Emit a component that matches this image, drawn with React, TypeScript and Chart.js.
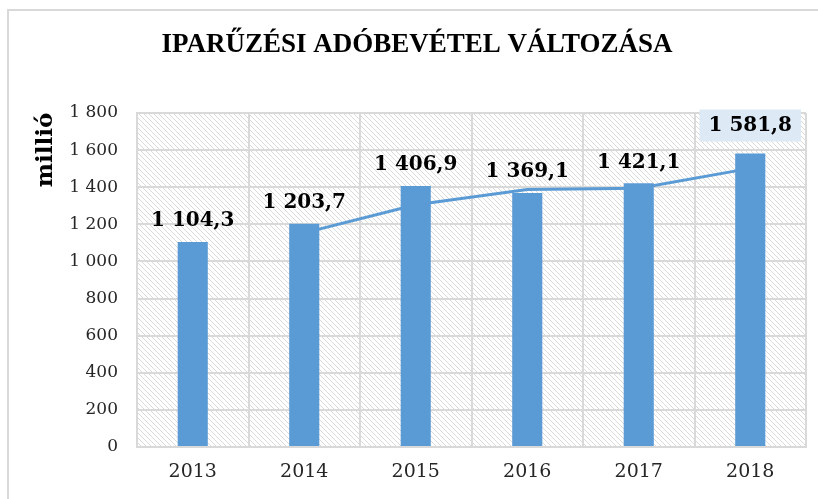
import React, { useEffect, useRef } from "react";
import { Chart, registerables } from "chart.js";

Chart.register(...registerables);

const chartTitle = "IPARŰZÉSI ADÓBEVÉTEL VÁLTOZÁSA";
const yAxisTitle = "millió";
const categories = ["2013", "2014", "2015", "2016", "2017", "2018"];
const revenue = [1104.3, 1203.7, 1406.9, 1369.1, 1421.1, 1581.8];
const trendLine = [null, 1154.0, 1305.3, 1388.0, 1395.1, 1501.5];
const yMin = 0;
const yMax = 1800;
const yStep = 200;
const highlightedCategories = ["2018"];

const BLUE = "#5b9bd5";
const GRID = "#d9d9d9";

function fmtThousands(intPart: string) {
  return intPart.replace(/\B(?=(\d{3})+(?!\d))/g, " ");
}
function fmtTick(v: number) {
  return fmtThousands(String(Math.round(v)));
}
function fmtValue(v: number) {
  const [i, d] = v.toFixed(1).split(".");
  return fmtThousands(i) + "," + d;
}

function makePattern(ctx: CanvasRenderingContext2D) {
  const size = 5;
  const c = document.createElement("canvas");
  c.width = size;
  c.height = size;
  const p = c.getContext("2d")!;
  p.fillStyle = "#ffffff";
  p.fillRect(0, 0, size, size);
  p.strokeStyle = "#dadada";
  p.lineWidth = 1;
  p.beginPath();
  p.moveTo(0, 0);
  p.lineTo(size, size);
  p.moveTo(-1, size - 1);
  p.lineTo(1, size + 1);
  p.moveTo(size - 1, -1);
  p.lineTo(size + 1, 1);
  p.stroke();
  return ctx.createPattern(c, "repeat");
}

const backgroundPlugin = {
  id: "hatchBackground",
  beforeDraw(chart: any) {
    const { ctx, chartArea } = chart;
    ctx.save();
    ctx.fillStyle = "#ffffff";
    ctx.fillRect(0, 0, chart.width, chart.height);
    // outer frame
    ctx.fillStyle = GRID;
    ctx.fillRect(7, 9, chart.width, 2);
    ctx.fillRect(7, 9, 2, chart.height);
    const pat = makePattern(ctx);
    if (pat) {
      ctx.fillStyle = pat;
      ctx.fillRect(
        chartArea.left,
        chartArea.top,
        chartArea.right - chartArea.left,
        chartArea.bottom - chartArea.top
      );
    }
    ctx.restore();
  },
};

const labelPlugin = {
  id: "barValueLabels",
  afterDatasetsDraw(chart: any) {
    const { ctx } = chart;
    const dsIndex = chart.data.datasets.findIndex((d: any) => d.type === "bar");
    const meta = chart.getDatasetMeta(dsIndex);
    ctx.save();
    ctx.font = "bold 20px 'DejaVu Serif'";
    ctx.textAlign = "center";
    ctx.textBaseline = "middle";
    meta.data.forEach((el: any, i: number) => {
      const text = fmtValue(revenue[i]);
      const hl = highlightedCategories.includes(categories[i]);
      const y = el.y - (hl ? 28 : 21);
      if (hl) {
        const w = ctx.measureText(text).width + 18;
        ctx.fillStyle = "#dde9f5";
        ctx.fillRect(el.x - w / 2, y - 16, w, 32);
      }
      ctx.fillStyle = "#000000";
      ctx.fillText(text, el.x, y);
    });
    // y axis title
    ctx.translate(46, 150);
    ctx.rotate(-Math.PI / 2);
    ctx.font = "bold 23px 'DejaVu Serif'";
    ctx.fillStyle = "#000000";
    ctx.fillText(yAxisTitle, 0, 0);
    ctx.restore();
  },
};

export default function App() {
  const ref = useRef<HTMLCanvasElement | null>(null);

  useEffect(() => {
    if (!ref.current) return;
    const chart = new Chart(ref.current, {
      type: "bar",
      data: {
        labels: categories,
        datasets: [
          {
            type: "bar",
            data: revenue,
            backgroundColor: BLUE,
            barPercentage: 0.27,
            categoryPercentage: 1,
            order: 2,
          } as any,
          {
            type: "line",
            data: trendLine,
            borderColor: BLUE,
            borderWidth: 3,
            pointRadius: 0,
            fill: false,
            tension: 0,
            order: 1,
          } as any,
        ],
      },
      options: {
        responsive: false,
        animation: false,
        layout: { padding: { left: 28, right: 12, top: 0, bottom: 0 } },
        plugins: {
          legend: { display: false },
          tooltip: { enabled: false },
          title: {
            display: true,
            text: chartTitle,
            color: "#000000",
            font: { family: "'Liberation Serif'", size: 27, weight: "bold" },
            padding: { top: 29, bottom: 51.6 },
          },
        },
        scales: {
          x: {
            grid: { color: GRID, lineWidth: 2, drawTicks: false, offset: true },
            border: { color: GRID, width: 2 },
            ticks: {
              color: "#262626",
              font: { family: "'DejaVu Serif'", size: 19 },
              padding: 14,
            },
            afterFit: (s: any) => {
              s.height = 52;
            },
          },
          y: {
            min: yMin,
            max: yMax,
            grid: { color: GRID, lineWidth: 2, drawTicks: false },
            border: { color: GRID, width: 2 },
            ticks: {
              stepSize: yStep,
              color: "#262626",
              font: { family: "'DejaVu Serif'", size: 17 },
              padding: 19,
              callback: (v: any) => fmtTick(Number(v)),
            },
            afterFit: (s: any) => {
              s.width = 109;
            },
          },
        },
      } as any,
      plugins: [backgroundPlugin, labelPlugin],
    });
    return () => chart.destroy();
  }, []);

  return (
    <div style={{ position: "absolute", left: 0, top: 0, width: 818, height: 499, overflow: "hidden" }}>
      <canvas ref={ref} width={818} height={499} style={{ display: "block" }} />
    </div>
  );
}
